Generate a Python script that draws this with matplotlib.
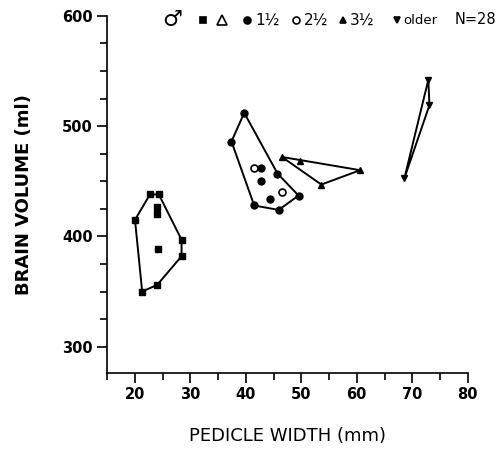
import matplotlib
matplotlib.use("Agg")
import matplotlib.pyplot as plt
from matplotlib.lines import Line2D
from matplotlib.ticker import MultipleLocator

# Juvenile group (squares): hull vertices first, then interior points
sq_x = [20.0, 22.7, 24.3, 28.4, 28.4, 24.0, 21.3, 23.9, 23.9, 24.2]
sq_y = [415, 438, 438, 397, 382, 356, 350, 427, 420, 389]
sq_hull = 7

# 1 1/2 year group (filled circles)
c1_x = [39.7, 45.7, 49.5, 45.9, 41.5, 37.4, 42.7, 42.7, 44.4]
c1_y = [512, 457, 437, 424, 428, 486, 462, 450, 434]
c1_hull = 6

# 2 1/2 year group (open circles), inside the 1 1/2 outline
c2_x = [41.4, 46.5]
c2_y = [462, 440]

# 3 1/2 year group (up triangles)
t3_x = [46.5, 60.6, 53.6, 49.7]
t3_y = [472, 460, 447, 468]
t3_hull = 3

# older group (down triangles)
old_x = [72.9, 73.1, 68.6]
old_y = [542, 519, 453]
old_hull = 3

x_ticks = [20, 30, 40, 50, 60, 70, 80]
y_ticks = [300, 400, 500, 600]

fig = plt.figure(figsize=(5.04, 4.51), dpi=100)
ax = fig.add_axes([0.2117, 0.1736, 0.928 - 0.2117, 0.965 - 0.1736])

def outline(xs, ys, n):
    px = list(xs[:n]) + [xs[0]]
    py = list(ys[:n]) + [ys[0]]
    ax.plot(px, py, color="black", lw=1.4, zorder=2)

outline(sq_x, sq_y, sq_hull)
outline(c1_x, c1_y, c1_hull)
outline(t3_x, t3_y, t3_hull)
outline(old_x, old_y, old_hull)

ax.plot(sq_x, sq_y, "s", color="black", ms=4.2, ls="none", zorder=3)
ax.plot(c1_x, c1_y, "o", color="black", ms=5, ls="none", zorder=3)
ax.plot(c2_x, c2_y, "o", mfc="white", mec="black", mew=1.2, ms=5, ls="none", zorder=3)
ax.plot(t3_x, t3_y, "^", color="black", ms=5, ls="none", zorder=3)
ax.plot(old_x, old_y, "v", color="black", ms=5, ls="none", zorder=3)

ax.set_xlim(14.9, 80)
ax.set_ylim(276.4, 600)
ax.spines["top"].set_visible(False)
ax.spines["right"].set_visible(False)
for s in ("left", "bottom"):
    ax.spines[s].set_linewidth(1.2)

ax.set_xticks(x_ticks)
ax.set_yticks(y_ticks)
ax.xaxis.set_minor_locator(MultipleLocator(5))
ax.yaxis.set_minor_locator(MultipleLocator(25))
ax.tick_params(which="major", direction="out", length=7, width=1.2,
               labelsize=10.5, pad=3)
ax.tick_params(which="minor", direction="out", length=5, width=1.2)
for lab in ax.get_xticklabels() + ax.get_yticklabels():
    lab.set_fontweight("bold")

ax.set_ylabel("BRAIN VOLUME (ml)", fontsize=13, fontweight="bold", labelpad=21)
ax.set_xlabel("PEDICLE WIDTH (mm)", fontsize=13, labelpad=18)

# key row along the top
def fx(px):
    return px / 504.0

ky = 1 - 20 / 451.0
fig.text(fx(172), ky, "\u2642", fontsize=16, ha="center", va="center")
key_marks = [
    (202.7, "s", "black", 4),
    (221.7, "^", "white", 7),
    (247.3, "o", "black", 5),
    (295.7, "o", "white", 5),
    (342.7, "^", "black", 4.5),
    (396.7, "v", "black", 4.5),
]
for px, m, fc, size in key_marks:
    fig.add_artist(Line2D([fx(px)], [ky], marker=m, mfc=fc, mec="black",
                          mew=1.2, ms=size, ls="none",
                          transform=fig.transFigure))
for px, txt, fs in [(255, "1\u00bd", 11), (304, "2\u00bd", 11),
                    (350, "3\u00bd", 11), (403, "older", 9.5),
                    (455, "N=28", 10.5)]:
    fig.text(fx(px), ky, txt, fontsize=fs, ha="left", va="center")

fig.savefig("out.png", dpi=100)
